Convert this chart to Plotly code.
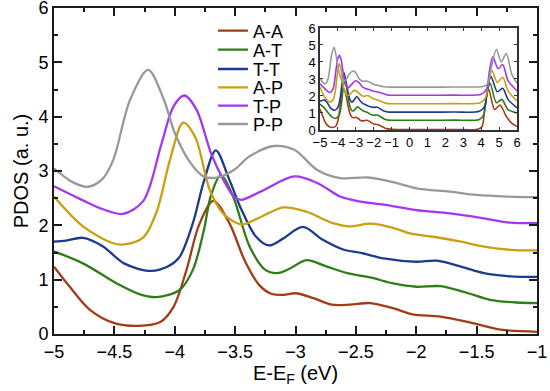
import plotly.graph_objects as go

# ---------------- data ----------------
series_names = ["A-A", "A-T", "T-T", "A-P", "T-P", "P-P"]
series_colors = ["#a23c18", "#2e7d16", "#1e3a8c", "#c9a010", "#a437ee", "#999999"]

# main-window values (E-EF from -5 to -1 eV)
aa_x = [-5.0, -4.87, -4.7, -4.5, -4.3, -4.12, -4.01, -3.9, -3.8, -3.68, -3.55, -3.42, -3.3, -3.2, -3.1, -3.0, -2.85, -2.7, -2.55, -2.38, -2.2, -2.03, -1.8, -1.55, -1.3, -1.0]
aa_y = [1.24, 0.87, 0.44, 0.20, 0.15, 0.22, 0.50, 1.20, 2.00, 2.45, 2.05, 1.35, 0.90, 0.74, 0.72, 0.75, 0.66, 0.54, 0.54, 0.57, 0.48, 0.36, 0.32, 0.21, 0.08, 0.04]

at_x = [-5.0, -4.76, -4.48, -4.3, -4.15, -3.96, -3.85, -3.76, -3.7, -3.62, -3.52, -3.38, -3.25, -3.15, -3.05, -2.91, -2.74, -2.57, -2.38, -2.19, -2.0, -1.8, -1.57, -1.39, -1.17, -1.0]
at_y = [1.52, 1.30, 0.93, 0.74, 0.68, 0.81, 1.18, 1.90, 2.55, 2.92, 2.55, 1.61, 1.18, 1.12, 1.20, 1.36, 1.24, 1.12, 1.04, 0.93, 0.87, 0.88, 0.75, 0.63, 0.58, 0.57]

tt_x = [-5.0, -4.9, -4.76, -4.6, -4.42, -4.2, -4.05, -3.96, -3.85, -3.76, -3.66, -3.55, -3.45, -3.33, -3.22, -3.1, -2.94, -2.77, -2.6, -2.45, -2.27, -2.0, -1.83, -1.63, -1.44, -1.22, -1.0]
tt_y = [1.70, 1.72, 1.77, 1.62, 1.30, 1.16, 1.25, 1.42, 2.04, 2.80, 3.38, 2.85, 2.30, 1.80, 1.63, 1.76, 1.97, 1.73, 1.55, 1.49, 1.39, 1.33, 1.35, 1.24, 1.12, 1.06, 1.05]

ap_x = [-5.0, -4.76, -4.51, -4.42, -4.26, -4.15, -4.04, -3.93, -3.83, -3.71, -3.6, -3.45, -3.3, -3.1, -2.91, -2.69, -2.55, -2.38, -2.2, -2.05, -1.86, -1.63, -1.44, -1.22, -1.0]
ap_y = [2.53, 1.98, 1.67, 1.65, 1.78, 2.25, 3.20, 3.89, 3.62, 2.65, 2.22, 2.02, 2.14, 2.33, 2.25, 2.04, 1.98, 2.03, 1.96, 1.85, 1.79, 1.70, 1.61, 1.55, 1.54]

tp_x = [-5.0, -4.76, -4.6, -4.43, -4.26, -4.11, -4.01, -3.92, -3.82, -3.7, -3.6, -3.51, -3.45, -3.29, -3.01, -2.82, -2.63, -2.47, -2.27, -2.0, -1.72, -1.44, -1.22, -1.0]
tp_y = [2.72, 2.46, 2.30, 2.21, 2.45, 3.50, 4.19, 4.39, 4.13, 3.33, 2.85, 2.53, 2.47, 2.62, 2.90, 2.78, 2.53, 2.44, 2.38, 2.28, 2.22, 2.13, 2.05, 2.04]

pp_x = [-5.0, -4.85, -4.72, -4.6, -4.51, -4.37, -4.22, -4.09, -4.0, -3.87, -3.76, -3.65, -3.51, -3.38, -3.18, -3.01, -2.82, -2.63, -2.4, -2.2, -2.0, -1.72, -1.5, -1.25, -1.0]
pp_y = [3.05, 2.80, 2.71, 2.85, 3.20, 4.31, 4.86, 4.31, 3.70, 3.15, 2.90, 2.88, 3.02, 3.27, 3.46, 3.39, 3.02, 2.87, 2.88, 2.80, 2.68, 2.62, 2.56, 2.53, 2.52]

# inset-only continuation (from -1 to 6 eV)
aa_x_hi = [-0.5, 1.0, 2.5, 3.8, 4.05, 4.2, 4.42, 4.75, 5.05, 5.4, 5.7, 6.0]
aa_y_hi = [0.03, 0.03, 0.03, 0.04, 0.20, 1.30, 2.40, 1.20, 1.47, 0.80, 0.40, 0.20]
at_x_hi = [-0.5, 1.0, 2.5, 3.9, 4.15, 4.3, 4.5, 4.85, 5.15, 5.5, 6.0]
at_y_hi = [0.57, 0.57, 0.58, 0.62, 0.90, 2.00, 2.75, 1.60, 1.80, 1.20, 1.00]
tt_x_hi = [-0.5, 1.0, 2.5, 3.9, 4.2, 4.35, 4.55, 4.9, 5.2, 5.5, 6.0]
tt_y_hi = [1.05, 1.05, 1.06, 1.10, 1.40, 2.40, 3.15, 2.25, 2.45, 1.80, 1.30]
ap_x_hi = [-0.5, 1.0, 2.5, 3.95, 4.25, 4.4, 4.6, 4.9, 5.2, 5.5, 6.0]
ap_y_hi = [1.54, 1.54, 1.55, 1.60, 1.90, 2.80, 3.50, 2.80, 3.10, 2.30, 1.70]
tp_x_hi = [-0.5, 1.0, 2.5, 4.0, 4.3, 4.45, 4.65, 4.95, 5.2, 5.5, 6.0]
tp_y_hi = [2.04, 2.04, 2.05, 2.10, 2.40, 3.40, 4.30, 3.60, 3.85, 2.90, 2.30]
pp_x_hi = [-0.5, 1.0, 2.5, 4.1, 4.35, 4.55, 4.85, 5.12, 5.4, 5.7, 6.0]
pp_y_hi = [2.52, 2.52, 2.53, 2.56, 2.70, 3.60, 4.75, 4.00, 4.50, 3.30, 2.75]

main_x = [aa_x, at_x, tt_x, ap_x, tp_x, pp_x]
main_y = [aa_y, at_y, tt_y, ap_y, tp_y, pp_y]
hi_x = [aa_x_hi, at_x_hi, tt_x_hi, ap_x_hi, tp_x_hi, pp_x_hi]
hi_y = [aa_y_hi, at_y_hi, tt_y_hi, ap_y_hi, tp_y_hi, pp_y_hi]

x_ticks = [-5, -4.5, -4, -3.5, -3, -2.5, -2, -1.5, -1]
y_ticks = [0, 1, 2, 3, 4, 5, 6]
inset_x_ticks = [-5, -4, -3, -2, -1, 0, 1, 2, 3, 4, 5, 6]
inset_y_ticks = [0, 1, 2, 3, 4, 5, 6]

# ---------------- figure ----------------
FONT = "Liberation Sans, Arial, sans-serif"
AXC = "#1a1a1a"
fig = go.Figure()

legend_ys = [0.9294, 0.8712, 0.8119, 0.7555, 0.6994, 0.6432]
legend_names = ["legend", "legend2", "legend3", "legend4", "legend5", "legend6"]

for i, name in enumerate(series_names):
    fig.add_trace(go.Scatter(
        x=main_x[i], y=main_y[i], mode="lines", name=name,
        line=dict(color=series_colors[i], width=2.3, shape="spline", smoothing=0.9),
        legend=legend_names[i], xaxis="x", yaxis="y", showlegend=True))

for i, name in enumerate(series_names):
    fig.add_trace(go.Scatter(
        x=main_x[i] + hi_x[i], y=main_y[i] + hi_y[i], mode="lines", name=name,
        line=dict(color=series_colors[i], width=1.6, shape="spline", smoothing=0.8),
        xaxis="x2", yaxis="y2", showlegend=False))

layout = dict(
    width=550, height=391,
    margin=dict(l=54, r=13, t=8, b=57, autoexpand=False),
    paper_bgcolor="white", plot_bgcolor="white",
    font=dict(family=FONT, size=18, color="black"),
    xaxis=dict(
        range=[-5, -1], tickvals=x_ticks, ticks="inside", ticklen=8, tickwidth=1.8,
        tickcolor=AXC, showline=True, linecolor=AXC, linewidth=2, mirror="allticks",
        showgrid=False, zeroline=False, tickfont=dict(size=18), automargin=False,
        ticklabeloverflow="allow",
        minor=dict(ticks="inside", dtick=0.25, ticklen=4, tickwidth=1.5, tickcolor=AXC, showgrid=False),
        title=dict(text="E-E<sub>F</sub> (eV)", font=dict(size=20), standoff=0),
    ),
    yaxis=dict(
        range=[0, 6], tickvals=y_ticks, ticks="inside", ticklen=8, tickwidth=1.8,
        tickcolor=AXC, showline=True, linecolor=AXC, linewidth=2, mirror="allticks",
        showgrid=False, zeroline=False, tickfont=dict(size=18), automargin=False,
        ticklabeloverflow="allow",
        minor=dict(ticks="inside", dtick=0.5, ticklen=4, tickwidth=1.5, tickcolor=AXC, showgrid=False),
        title=dict(text="PDOS (a. u.)", font=dict(size=20), standoff=4),
    ),
    xaxis2=dict(
        domain=[0.5507, 0.9586], anchor="y2", range=[-5, 6], tickvals=inset_x_ticks,
        ticks="inside", ticklen=3, tickwidth=1, tickcolor="#333", showline=True,
        linecolor="#333", linewidth=1.5, mirror="allticks", showgrid=False, zeroline=False,
        tickfont=dict(size=13), ticklabelstandoff=0, automargin=False, ticklabeloverflow="allow",
    ),
    yaxis2=dict(
        domain=[0.6258, 0.9387], anchor="x2", range=[0, 6], tickvals=inset_y_ticks,
        ticks="inside", ticklen=3, tickwidth=1, tickcolor="#333", showline=True,
        linecolor="#333", linewidth=1.5, mirror="allticks", showgrid=False, zeroline=False,
        tickfont=dict(size=13), ticklabelstandoff=0, automargin=False, ticklabeloverflow="allow",
    ),
)
for i, ln in enumerate(legend_names):
    layout[ln] = dict(x=0.329, y=legend_ys[i], xanchor="left", yanchor="middle",
                      bgcolor="rgba(0,0,0,0)", borderwidth=0, font=dict(size=18, family=FONT))
fig.update_layout(**layout)

fig.write_html("out.html", config={"displayModeBar": False},
               post_script="document.body.style.margin='0px';")
